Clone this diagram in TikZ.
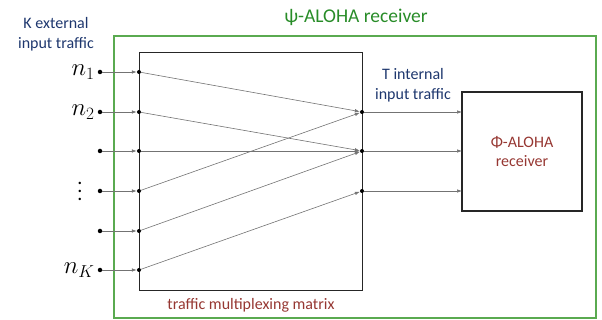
\documentclass[tikz,border=0pt]{standalone}
\usepackage{fontspec}
\setmainfont{Carlito}
\usetikzlibrary{arrows.meta}
\definecolor{psigreen}{RGB}{40,140,40}
\definecolor{framegreen}{RGB}{90,170,80}
\definecolor{trafficblue}{RGB}{30,55,110}
\definecolor{rxred}{RGB}{150,55,50}
\begin{document}
\begin{tikzpicture}[x=1pt, y=-1pt,
   every node/.style={font=\fontsize{16}{19.5}\selectfont},
   dot/.style={circle, fill=black, inner sep=0pt, minimum size=4.5pt},
   wire/.style={draw=black!55, line width=0.6pt, -{Latex[length=5pt,width=3.5pt]}},
   blockbox/.style={draw=black!85, line width=1.1pt, inner sep=0pt},
   nlabel/.style={font=\fontsize{24}{24}\selectfont},
   label distance=2pt]

\useasboundingbox (0,0) rectangle (602,320);

\draw[framegreen, line width=1.5pt] (114,36) rectangle (596,318);
\node[psigreen, font=\fontsize{19.5}{22}\selectfont] (title) at (356,17) {ψ-ALOHA receiver};

\node[blockbox, anchor=north west, minimum width=223pt, minimum height=238pt] (mux) at (139,52) {};
\node[rxred] (muxname) at (251,305) {traffic multiplexing matrix};

\node[blockbox, minimum width=120pt, minimum height=119pt, text=rxred, align=center] (rx) at (522,151.5) {Φ-ALOHA\\receiver};

\node[trafficblue, align=center] (ext) at (56,34) {K external\\input traffic};
\node[trafficblue, align=center] (int) at (413,85) {T internal\\input traffic};

\foreach \y [count=\i] in {72,112,151,191,231,270} {
   \node[dot] (in\i) at (100,\y) {};
   \node[dot, minimum size=4pt] (m\i) at (139,\y) {};
   \draw[wire] (in\i) -- (m\i);
}

\foreach \y [count=\j] in {112,151,191} {
   \node[dot, minimum size=4pt] (out\j) at (362,\y) {};
   \coordinate (rx\j) at (462,\y);
   \draw[wire] (out\j) -- (rx\j);
}

\foreach \i/\j in {1/1,2/2,3/2,4/1,5/2,6/3}
   \draw[wire] (m\i) -- (out\j);

\node[nlabel, left=2pt] (n1) at (in1) {$n_1$};
\node[nlabel, left=2pt] (n2) at (in2) {$n_2$};
\node[font=\fontsize{10}{10}\selectfont, scale=2, inner sep=0pt, anchor=south] (nd) at (80,201) {$\vdots$};
\node[nlabel, left=2pt] (nK) at (in6) {$n_K$};

\end{tikzpicture}
\end{document}
